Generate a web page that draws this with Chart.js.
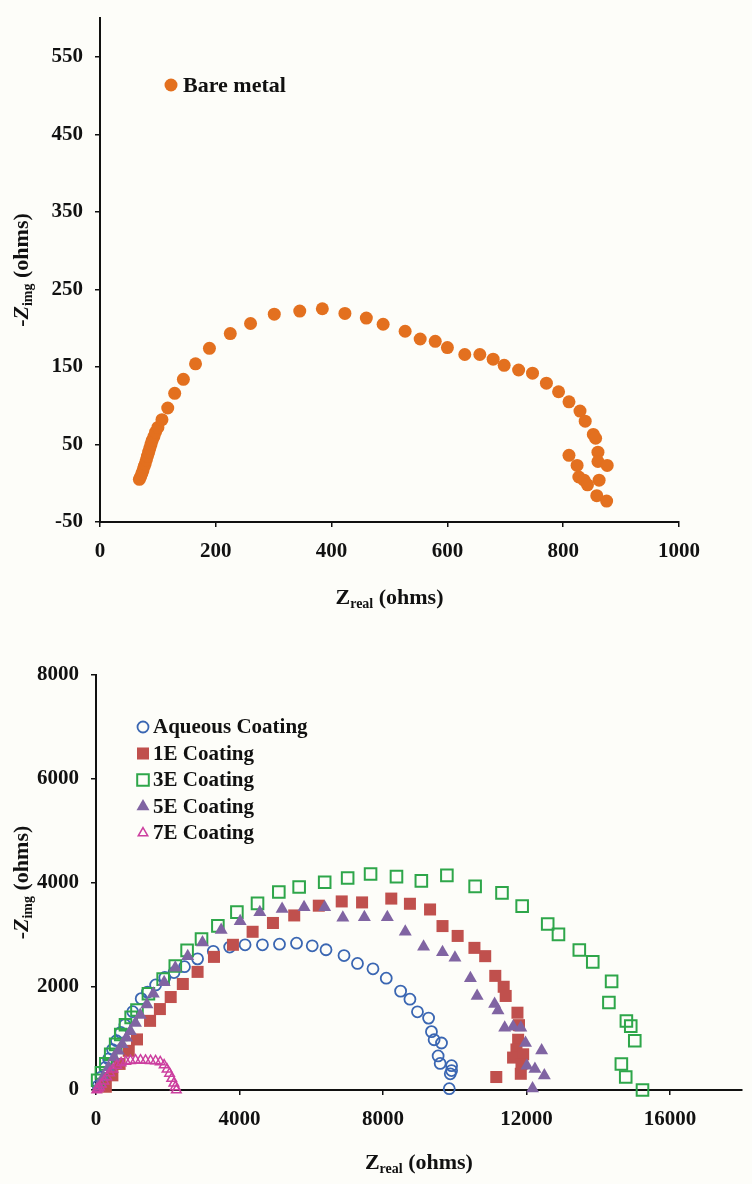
<!DOCTYPE html>
<html>
<head>
<meta charset="utf-8">
<script src="https://cdn.jsdelivr.net/npm/chart.js"></script>
<style>
  body { margin: 0; background: #fdfdf9; }
  #wrap { position: relative; width: 752px; height: 1184px; }
  canvas { position: absolute; left: 0; }
  #bare { top: 0; }
  #coat { top: 620px; }
</style>
</head>
<body>
<div id="wrap">
  <canvas id="bare" width="752" height="620"></canvas>
  <canvas id="coat" width="752" height="564"></canvas>
</div>
<script>
// top panel: bare metal Nyquist plot
const bareMetalReal = [68, 70, 72, 74, 76, 78, 80, 82, 84, 86, 88, 90, 93, 96, 100, 107, 117, 129, 144, 165,
  189, 225, 260, 301, 345, 384, 423, 460, 489, 527, 553, 579, 600, 630, 656, 679, 698, 723, 747, 771,
  792, 810, 829, 838, 852, 856, 860, 860, 876, 862, 858, 875, 810, 824, 827, 836, 842];
const bareMetalImag = [5, 8, 12, 16, 21, 25, 30, 35, 40, 45, 50, 55, 60, 66, 72, 82, 97, 116, 134, 154,
  174, 193, 206, 218, 222, 225, 219, 213, 205, 196, 186, 183, 175, 166, 166, 160, 152, 146, 142, 129,
  118, 105, 93, 80, 63, 58, 40, 28, 23, 4, -16, -23, 36, 23, 8, 4, -2];
const bareTicksX = [0, 200, 400, 600, 800, 1000];
const bareTicksY = [-50, 50, 150, 250, 350, 450, 550];

// bottom panel: coatings
const aqueousReal = [60, 150, 250, 350, 460, 570, 690, 804, 1023, 1260, 1434, 1662, 1918, 2174, 2466, 2831,
  3269, 3726, 4155, 4639, 5114, 5589, 6027, 6411, 6913, 7288, 7720, 8090, 8490, 8750, 8960, 9270, 9350,
  9424, 9630, 9536, 9593, 9911, 9911, 9874, 9846];
const aqueousImag = [80, 250, 430, 600, 780, 950, 1110, 1258, 1509, 1761, 1887, 2025, 2170, 2264, 2377, 2528,
  2673, 2755, 2799, 2799, 2811, 2830, 2780, 2704, 2591, 2440, 2336, 2156, 1906, 1750, 1507, 1386, 1125,
  969, 906, 656, 512, 469, 375, 312, 25];
const coat1EReal = [274, 457, 658, 913, 1142, 1507, 1781, 2082, 2420, 2831, 3288, 3817, 4365, 4932, 5525,
  6210, 6849, 7416, 8230, 8750, 9311, 9658, 10080, 10548, 10848, 11129, 11363, 11419, 11747, 11790,
  11766, 11719, 11625, 11906, 11859, 11840, 11157];
const coat1EImag = [63, 283, 503, 755, 975, 1333, 1560, 1792, 2044, 2277, 2566, 2799, 3050, 3220, 3365,
  3553, 3635, 3616, 3690, 3590, 3480, 3160, 2970, 2740, 2580, 2200, 1990, 1813, 1490, 1250,
  969, 781, 625, 688, 500, 313, 250];
const coat3EReal = [46, 150, 274, 410, 548, 690, 822, 980, 1142, 1461, 1872, 2210, 2539, 2941, 3397, 3927,
  4502, 5096, 5662, 6374, 7014, 7653, 8375, 9068, 9780, 10567, 11316, 11878, 12590, 12890, 13471, 13846,
  14371, 14296, 14783, 14905, 15017, 14643, 14765, 15232];
const coat3EImag = [189, 330, 503, 690, 880, 1070, 1258, 1400, 1541, 1855, 2138, 2390, 2692, 2912, 3164, 3428,
  3597, 3817, 3912, 4006, 4088, 4164, 4113, 4031, 4138, 3925, 3800, 3544, 3200, 3000, 2700, 2469,
  2094, 1688, 1331, 1231, 950, 500, 250, 0];
const coat5EReal = [60, 201, 350, 502, 620, 731, 850, 959, 1100, 1233, 1420, 1598, 1900, 2210, 2557, 2968,
  3489, 4018, 4566, 5187, 5799, 6374, 6880, 7480, 8120, 8620, 9130, 9658, 10005, 10436, 10623, 11110,
  11204, 11391, 11625, 11841, 11972, 12421, 12009, 12234, 12496, 12168];
const coat5EImag = [80, 252, 440, 629, 755, 880, 1005, 1132, 1290, 1447, 1650, 1855, 2075, 2358, 2579, 2843,
  3082, 3252, 3428, 3491, 3522, 3522, 3320, 3330, 3330, 3050, 2760, 2656, 2550, 2156, 1813, 1656,
  1531, 1200, 1219, 1200, 906, 763, 469, 406, 281, 31];
const coat7EReal = [20, 60, 100, 150, 220, 300, 380, 470, 580, 700, 830, 960, 1100, 1240, 1380, 1520,
  1660, 1790, 1900, 1980, 2050, 2110, 2170, 2210, 2240];
const coat7EImag = [0, 30, 60, 110, 170, 250, 330, 400, 470, 520, 550, 565, 575, 575, 570, 565,
  560, 540, 480, 400, 320, 220, 130, 60, 0];
const coatTicksX = [0, 4000, 8000, 12000, 16000];
const coatTicksY = [0, 2000, 4000, 6000, 8000];

const SERIF = '"Liberation Serif", "Times New Roman", serif';
const INK = '#111';

function pts(xs, ys) {
  return xs.map((x, i) => ({ x, y: ys[i] }));
}

// draw a run of text pieces (for subscripts), centred on x,y
function drawRich(ctx, parts, x, y, rotate) {
  ctx.save();
  ctx.translate(x, y);
  if (rotate) ctx.rotate(-Math.PI / 2);
  ctx.fillStyle = INK;
  ctx.textBaseline = 'alphabetic';
  let total = 0;
  parts.forEach((p) => { ctx.font = p.font; p.w = ctx.measureText(p.text).width; total += p.w; });
  let cx = -total / 2;
  parts.forEach((p) => { ctx.font = p.font; ctx.fillText(p.text, cx, p.dy); cx += p.w; });
  ctx.restore();
}

const big = `bold 22px ${SERIF}`;
const small = `bold 14px ${SERIF}`;
const xTitle = [
  { text: 'Z', font: big, dy: 7 },
  { text: 'real', font: small, dy: 11 },
  { text: ' (ohms)', font: big, dy: 7 },
];
const yTitle = [
  { text: '-', font: big, dy: 7 },
  { text: 'Z', font: `italic bold 22px ${SERIF}`, dy: 7 },
  { text: 'img', font: small, dy: 11 },
  { text: ' (ohms)', font: big, dy: 7 },
];

const decor = {
  id: 'decor',
  afterDraw(chart, args, opts) {
    const { ctx, chartArea } = chart;
    const lg = opts.legend;
    chart.data.datasets.forEach((ds, i) => {
      const x = chartArea.left + lg.dx;
      const y = chartArea.top + lg.dy + i * lg.gap;
      ctx.save();
      ctx.fillStyle = ds.pointBackgroundColor;
      ctx.strokeStyle = ds.pointBorderColor;
      ctx.lineWidth = ds.pointBorderWidth;
      Chart.helpers.drawPoint(ctx, {
        pointStyle: ds.pointStyle, radius: ds.pointRadius, borderWidth: ds.pointBorderWidth, rotation: 0,
      }, x, y);
      ctx.fillStyle = INK;
      ctx.font = `bold ${lg.size}px ${SERIF}`;
      ctx.textBaseline = 'middle';
      ctx.fillText(ds.label, x + lg.textGap, y + 1);
      ctx.restore();
    });
    drawRich(ctx, xTitle, (chartArea.left + chartArea.right) / 2, chartArea.bottom + opts.xTitleGap, false);
    drawRich(ctx, yTitle, opts.yTitleX, (chartArea.top + chartArea.bottom) / 2, true);
  },
};

function fixBox(size) {
  return (scale) => {
    if (scale.isHorizontal()) scale.height = size; else scale.width = size;
    scale.paddingLeft = 0; scale.paddingRight = 0; scale.paddingTop = 0; scale.paddingBottom = 0;
  };
}

function axis(min, max, tickList, boxSize) {
  return {
    type: 'linear',
    min,
    max,
    afterBuildTicks: (scale) => { scale.ticks = tickList.map((v) => ({ value: v })); },
    afterFit: fixBox(boxSize),
    grid: { drawOnChartArea: false, drawTicks: true, tickLength: 5, color: INK, lineWidth: 1.5 },
    border: { color: INK, width: 2 },
    ticks: {
      color: INK,
      padding: 12,
      maxRotation: 0,
      autoSkip: false,
      font: { family: SERIF, size: 21, weight: 'bold' },
      callback: (v) => String(v),
    },
  };
}

Chart.defaults.animation = false;

new Chart(document.getElementById('bare'), {
  type: 'scatter',
  data: {
    datasets: [{
      label: 'Bare metal',
      data: pts(bareMetalReal, bareMetalImag),
      pointStyle: 'circle',
      pointRadius: 6.5,
      pointBackgroundColor: '#e3701f',
      pointBorderColor: '#e3701f',
      pointBorderWidth: 0,
      clip: false,
    }],
  },
  options: {
    responsive: false,
    devicePixelRatio: 1,
    layout: { padding: { left: 0, top: 18, right: 73, bottom: 0 } },
    scales: {
      x: axis(0, 1000, bareTicksX, 98),
      y: axis(-50, 600, bareTicksY, 100),
    },
    plugins: {
      legend: { display: false },
      tooltip: { enabled: false },
      decor: { legend: { dx: 71, dy: 67, gap: 0, textGap: 12, size: 22 }, xTitleGap: 75, yTitleX: 21 },
    },
  },
  plugins: [decor],
});

function coatSet(label, xs, ys, style, radius, fill, stroke, bw, order) {
  return {
    label,
    data: pts(xs, ys),
    pointStyle: style,
    pointRadius: radius,
    pointBackgroundColor: fill,
    pointBorderColor: stroke,
    pointBorderWidth: bw,
    order,
    clip: false,
  };
}

new Chart(document.getElementById('coat'), {
  type: 'scatter',
  data: {
    datasets: [
      coatSet('Aqueous Coating', aqueousReal, aqueousImag, 'circle', 5.5, 'rgba(0,0,0,0)', '#3a66b2', 1.8, 5),
      coatSet('1E Coating', coat1EReal, coat1EImag, 'rect', 8.5, '#c0504d', '#c0504d', 0, 4),
      coatSet('3E Coating', coat3EReal, coat3EImag, 'rect', 8.2, 'rgba(0,0,0,0)', '#2ea64a', 2, 3),
      coatSet('5E Coating', coat5EReal, coat5EImag, 'triangle', 7.5, '#8064a2', '#8064a2', 0, 2),
      coatSet('7E Coating', coat7EReal, coat7EImag, 'triangle', 5.5, 'rgba(0,0,0,0)', '#cc3f9f', 1.5, 1),
    ],
  },
  options: {
    responsive: false,
    devicePixelRatio: 1,
    layout: { padding: { left: 0, top: 55, right: 7, bottom: 0 } },
    scales: {
      x: axis(0, 18000, coatTicksX, 94),
      y: axis(0, 8000, coatTicksY, 96),
    },
    plugins: {
      legend: { display: false },
      tooltip: { enabled: false },
      decor: { legend: { dx: 47, dy: 52, gap: 26.5, textGap: 10, size: 21 }, xTitleGap: 72, yTitleX: 21 },
    },
  },
  plugins: [decor],
});
</script>
</body>
</html>
